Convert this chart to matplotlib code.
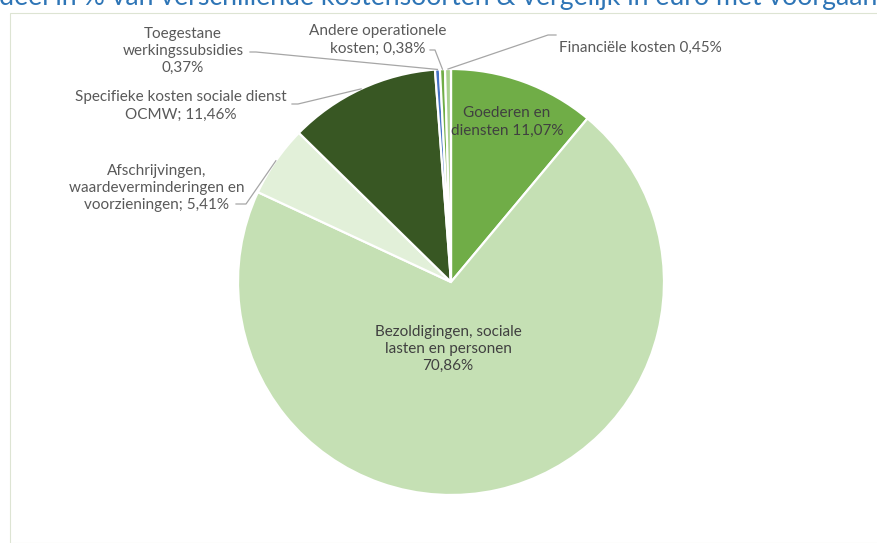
import numpy as np
import matplotlib.pyplot as plt
from matplotlib.patches import Rectangle

plt.rcParams['font.family'] = ['Lato', 'DejaVu Sans']

# data
categories = ['Goederen en diensten', 'Bezoldigingen, sociale lasten en personen',
              'Afschrijvingen, waardeverminderingen en voorzieningen',
              'Specifieke kosten sociale dienst OCMW', 'Toegestane werkingssubsidies',
              'Andere operationele kosten', 'Financiële kosten']
shares = [11.07, 70.86, 5.41, 11.46, 0.37, 0.38, 0.45]
colors = ['#70ad47', '#c5e0b4', '#e2f0d9', '#385723', '#4472c4', '#70ad47', '#a9d18e']
label_texts = ['Goederen en\ndiensten 11,07%',
               'Bezoldigingen, sociale\nlasten en personen\n70,86%',
               'Afschrijvingen,\nwaardeverminderingen en\nvoorzieningen; 5,41%',
               'Specifieke kosten sociale dienst\nOCMW; 11,46%',
               'Toegestane\nwerkingssubsidies\n0,37%',
               'Andere operationele\nkosten; 0,38%',
               'Financiële kosten 0,45%']
title = 'Aandeel in % van verschillende kostensoorten & vergelijk in euro met voorgaande jaren'

W, H = 877, 543
fig = plt.figure(figsize=(W / 100, H / 100), dpi=100)
ax = fig.add_axes([0, 0, 1, 1])

cx, cy, r = 451, H - 282, 213
wedges, _ = ax.pie(shares, colors=colors, startangle=90, counterclock=False,
                   center=(cx, cy), radius=r, frame=True,
                   wedgeprops=dict(edgecolor='white', linewidth=1.6))
ax.set_xlim(0, W)
ax.set_ylim(0, H)
ax.set_aspect('equal')
ax.axis('off')

# chart border
fig.patches.append(Rectangle((10 / W, 0), 1, (H - 13) / H, transform=fig.transFigure,
                             fill=False, edgecolor='#dde4d3', linewidth=0.8))

# title, cut off at the top like the original
fig.text(-47 / W, 1 - 4.5 / H, title, color='#2e75b6', fontsize=19.2, ha='left', va='baseline')

fs = 11
txt = dict(color='#595959', fontsize=fs, linespacing=1.3, ha='center', va='center')

# inside labels
ax.text(507, H - 122, label_texts[0], **{**txt, 'color': '#404040'})
ax.text(448, H - 349, label_texts[1], **{**txt, 'color': '#404040'})

# outside labels with leader lines: (label centre, elbow start, elbow end)
outside = {
    2: ((157, 188), (236, 204), (246, 204)),
    3: ((181, 106), (292, 104), (298, 104)),
    4: ((183, 51), (250, 52), (256, 52)),
    5: ((378, 40), (430, 50), (435, 50)),
}
cum = np.cumsum([0] + shares)
for i, (lab, p0, p1) in outside.items():
    ax.text(lab[0], H - lab[1], label_texts[i], **txt)
    mid = (cum[i] + cum[i + 1]) / 2 / 100 * 2 * np.pi
    ex, ey = cx + r * np.sin(mid), cy + r * np.cos(mid)
    ax.plot([p0[0], p1[0], ex], [H - p0[1], H - p1[1], ey], color='#a6a6a6', lw=0.9)

# Financiele kosten label to the right
mid = (cum[6] + cum[7]) / 2 / 100 * 2 * np.pi
ex, ey = cx + r * np.sin(mid), cy + r * np.cos(mid)
ax.plot([556, 548, ex], [H - 35, H - 35, ey], color='#a6a6a6', lw=0.9)
ax.text(559, H - 48, label_texts[6], color='#595959', fontsize=fs, ha='left', va='center')

fig.savefig('out.png', dpi=100)
